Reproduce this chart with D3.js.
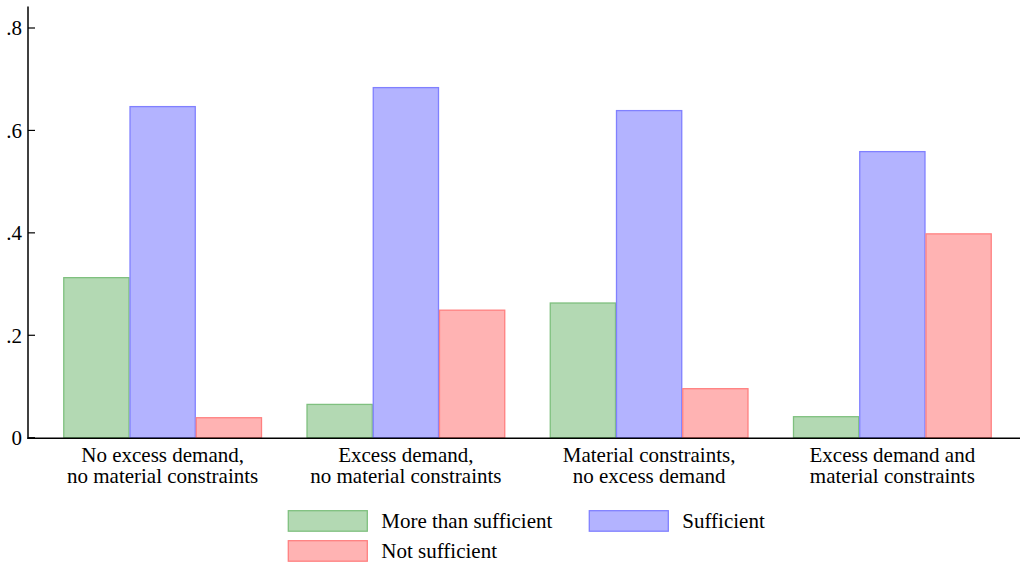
<!DOCTYPE html>
<html><head><meta charset="utf-8">
<script src="https://cdn.jsdelivr.net/npm/d3@7"></script>
<style>
html,body{margin:0;padding:0;background:#fff;}
svg{display:block;}
</style></head>
<body>
<svg id="c" width="1020" height="563"></svg>
<script>
const categories = [
  ["No excess demand,", "no material constraints"],
  ["Excess demand,", "no material constraints"],
  ["Material constraints,", "no excess demand"],
  ["Excess demand and", "material constraints"]
];
const seriesNames = ["More than sufficient", "Sufficient", "Not sufficient"];
const moreThanSufficient = [0.3125, 0.065, 0.263, 0.041];
const sufficient = [0.6465, 0.6836, 0.6387, 0.5586];
const notSufficient = [0.039, 0.249, 0.0957, 0.398];
const yTicks = [0, 0.2, 0.4, 0.6, 0.8];
const yTickLabels = ["0", ".2", ".4", ".6", ".8"];
const fills = ["#b3d9b3", "#b3b3ff", "#ffb3b3"];
const strokes = ["#7fc07f", "#8080ff", "#ff8080"];

const FONT = '"Liberation Serif", "Times New Roman", Times, Tinos, serif';
const seriesValues = [moreThanSufficient, sufficient, notSufficient];
const svg = d3.select("#c");
const axisX = 28, baseY = 437.7;
const y = d3.scaleLinear().domain([0, 0.8]).range([baseY, 28]);
const catIdx = d3.range(categories.length);
const x0 = d3.scaleBand().domain(catIdx).range([28, 1027]).paddingInner(0.183).paddingOuter(0.145);
const x1 = d3.scaleBand().domain(d3.range(3)).range([0, x0.bandwidth()]);

// bars
seriesValues.forEach((vals, s) => {
  svg.append("g").selectAll("rect").data(vals).join("rect")
    .attr("x", (d, i) => x0(i) + x1(s) + 0.5)
    .attr("width", x1.bandwidth() - 1)
    .attr("y", d => y(d))
    .attr("height", d => baseY - y(d))
    .attr("fill", fills[s])
    .attr("stroke", strokes[s])
    .attr("stroke-width", 1.3);
});

// y axis
const gy = svg.append("g");
yTicks.forEach((t, i) => {
  gy.append("line").attr("x1", axisX).attr("x2", axisX + 7).attr("y1", y(t)).attr("y2", y(t))
    .attr("stroke", "#000").attr("stroke-width", 1.2);
  gy.append("text").attr("x", axisX - 6).attr("y", y(t)).attr("dy", "0.35em")
    .attr("text-anchor", "end").attr("fill", "#000")
    .style("font-family", FONT).style("font-size", "21px").text(yTickLabels[i]);
});
svg.append("line").attr("x1", axisX).attr("x2", axisX).attr("y1", 6.5).attr("y2", baseY + 1)
  .attr("stroke", "#000").attr("stroke-width", 1.5);
svg.append("line").attr("x1", axisX - 0.7).attr("x2", 1020).attr("y1", baseY + 0.5).attr("y2", baseY + 0.5)
  .attr("stroke", "#000").attr("stroke-width", 1.5);

// x labels
const gl = svg.append("g");
categories.forEach((lines, i) => {
  const cx = x0(i) + x0.bandwidth() / 2;
  lines.forEach((t, j) => {
    gl.append("text").attr("x", cx).attr("y", 462 + j * 21)
      .attr("text-anchor", "middle").attr("fill", "#000")
      .style("font-family", FONT).style("font-size", "21px").text(t);
  });
});

// legend
const legendPos = [[288.3, 510.7], [589.3, 510.7], [288.3, 540.7]];
seriesNames.forEach((name, s) => {
  const [lx, ly] = legendPos[s];
  svg.append("rect").attr("x", lx).attr("y", ly).attr("width", 79).attr("height", 20.5)
    .attr("fill", fills[s]).attr("stroke", strokes[s]).attr("stroke-width", 1.3);
  svg.append("text").attr("x", lx + 93).attr("y", ly + 17).attr("fill", "#000")
    .style("font-family", FONT).style("font-size", "21px").text(name);
});
</script>
</body></html>
